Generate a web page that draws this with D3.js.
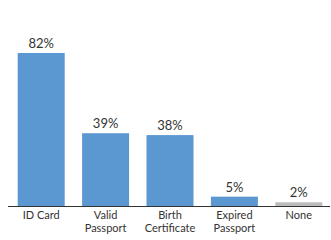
<!DOCTYPE html>
<html><head><meta charset="utf-8">
<script src="https://cdn.jsdelivr.net/npm/d3@7"></script>
<style>body{margin:0;background:#fff}svg{display:block}</style>
</head><body>
<script>
const categories = [["ID Card"],["Valid","Passport"],["Birth","Certificate"],["Expired","Passport"],["None"]];
const values = [82, 39, 38, 5, 2];
const colors = ["#5b97d1","#5b97d1","#5b97d1","#5b97d1","#bcbcbc"];

const W = 331, H = 240, base = 206;
const svg = d3.select("body").append("svg").attr("width", W).attr("height", H);
const x = d3.scaleBand().domain(d3.range(values.length)).range([9, 331]).paddingInner(0.27).paddingOuter(0.135);
const y = d3.scaleLinear().domain([0, 82]).range([base, 53]);

svg.selectAll("rect.bar").data(values).join("rect")
  .attr("x", (d,i) => x(i)).attr("width", x.bandwidth())
  .attr("y", d => y(d)).attr("height", d => base - y(d))
  .attr("fill", (d,i) => colors[i]);

svg.selectAll("text.val").data(values).join("text")
  .attr("x", (d,i) => x(i) + x.bandwidth()/2).attr("y", d => y(d) - 5)
  .attr("text-anchor","middle").attr("font-family","Lato").attr("font-size",13).attr("fill","#333")
  .text(d => d + "%");

svg.append("line").attr("x1", 8).attr("x2", 330).attr("y1", base + 0.5).attr("y2", base + 0.5)
  .attr("stroke","#333").attr("stroke-width",1);

const lab = svg.selectAll("text.cat").data(categories).join("text")
  .attr("text-anchor","middle").attr("font-family","Lato").attr("font-size",11).attr("fill","#333");
lab.each(function(d,i){
  d3.select(this).selectAll("tspan").data(d).join("tspan")
    .attr("x", x(i) + x.bandwidth()/2).attr("y", (t,j) => 219 + j*13).text(t => t);
});
</script>
</body></html>
